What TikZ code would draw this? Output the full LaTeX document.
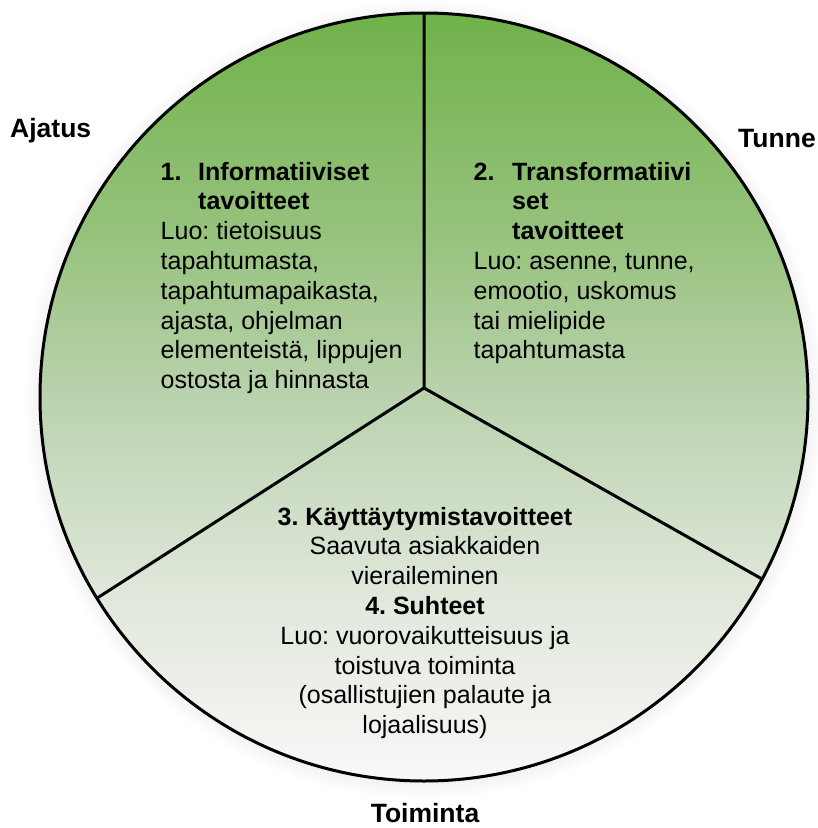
\documentclass[tikz,border=0pt]{standalone}
\usepackage{fontspec}
\setmainfont{Liberation Sans}
\usetikzlibrary{calc,shadows}
\definecolor{goalgreen}{HTML}{70B24A}
\definecolor{goalupper}{HTML}{98C37F}
\definecolor{goalmid}{HTML}{BAD2AE}
\definecolor{goallower}{HTML}{E0E8DB}
\definecolor{goalpale}{HTML}{EFF1EC}
\definecolor{goalwhite}{HTML}{F8F8F8}
\pgfdeclareverticalshading{goalfade}{100bp}{color(0bp)=(goalwhite); color(25bp)=(goalwhite);
  color(30bp)=(goalpale); color(37bp)=(goallower); color(50bp)=(goalmid); color(60bp)=(goalupper);
  color(75bp)=(goalgreen); color(100bp)=(goalgreen)}

\begin{document}
\begin{tikzpicture}[x=1pt,y=1pt,
  every node/.style={inner sep=0pt,font=\fontsize{25}{29.8}\selectfont\frenchspacing},
  side/.style={font=\fontsize{26.5}{30}\selectfont\bfseries},
  goaltext/.style={align=left,anchor=base west}]
\useasboundingbox (0,0) rectangle (818,-828);
% circle and the three sectors
\coordinate (c) at (424,-397);
\coordinate (hub) at (424,-388);
\coordinate (top) at (424,-13);
\coordinate (left) at ($(c)+(-148.4:384)$);
\coordinate (right) at ($(c)+(-28.3:384)$);
\shadedraw[line width=3pt,shading=goalfade,
  circular drop shadow={shadow xshift=0pt,shadow yshift=-2pt,shadow scale=1.04,opacity=0.35}] (c) circle (384);
\draw[line width=3pt,line join=miter] (top) -- (hub) (left) -- (hub) -- (right);
% texts (base = last line)
\node[goaltext] (info) at (160.5,-388.6) {\makebox[37.5pt][l]{\bfseries 1.}\textbf{Informatiiviset}\\\hspace*{37.5pt}\textbf{tavoitteet}\\Luo: tietoisuus\\tapahtumasta,\\tapahtumapaikasta,\\ajasta, ohjelman\\elementeistä, lippujen\\ostosta ja hinnasta};
\node[goaltext] (transf) at (473.5,-358.8) {\makebox[38.5pt][l]{\bfseries 2.}\textbf{Transformatiivi}\\\hspace*{38.5pt}\textbf{set}\\\hspace*{38.5pt}\textbf{tavoitteet}\\Luo: asenne, tunne,\\emootio, uskomus\\tai mielipide\\tapahtumasta};
\node[align=center,anchor=base] (action) at (425,-733.6) {\textbf{3. Käyttäytymistavoitteet}\\Saavuta asiakkaiden\\vieraileminen\\\textbf{4. Suhteet}\\Luo: vuorovaikutteisuus ja\\toistuva toiminta\\(osallistujien palaute ja\\lojaalisuus)};
\node[side,anchor=base west] (ajatus) at (10,-137) {Ajatus};
\node[side,anchor=base west] (tunne) at (738,-147) {Tunne};
\node[side,anchor=base] (toiminta) at (425,-822) {Toiminta};
\end{tikzpicture}
\end{document}
